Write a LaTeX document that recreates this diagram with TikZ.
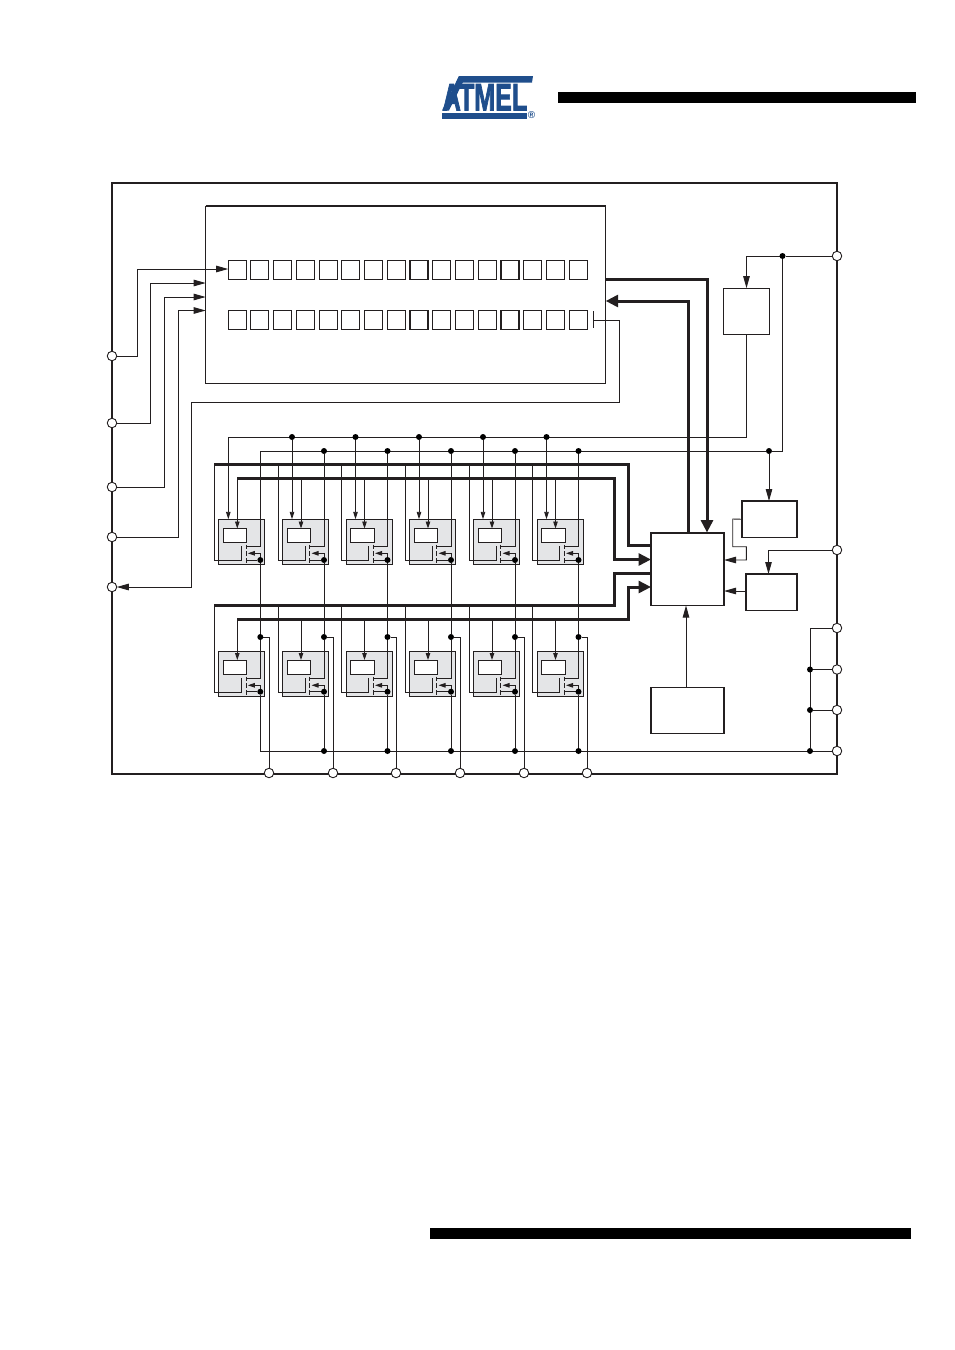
\documentclass[tikz,border=0pt]{standalone}
\usepackage{graphicx}
\usepackage{fontspec}
\setmainfont{Liberation Sans}
\newfontfamily\logofont[FakeBold=2.5]{Liberation Sans Bold}
\usetikzlibrary{arrows.meta,calc}
\definecolor{ink}{HTML}{231F20}
\definecolor{atmelblue}{HTML}{1F4E8C}
\definecolor{cellgray}{HTML}{E4E5E7}
\pgfdeclarelayer{back}
\pgfdeclarelayer{wirelayer}
\pgfsetlayers{back,wirelayer,main}
\tikzset{
  wire/.style={draw=ink,line width=0.9pt},
  thinarrow/.style={wire,-{Triangle[length=12pt,width=6.5pt]}},
  cellarrow/.style={wire,-{Triangle[length=7.5pt,width=4.5pt]}},
  smallarrow/.style={wire,-{Triangle[length=7pt,width=4.5pt]}},
  bus/.style={draw=ink,line width=3pt,line cap=butt,line join=miter},
  busarrow/.style={bus,-{Triangle[length=12.5pt,width=12pt]}},
  pin/.style={circle,draw=ink,fill=white,line width=0.9pt,minimum size=9.5pt,inner sep=0pt,outer sep=0pt},
  jdot/.style={circle,fill=black,minimum size=6pt,inner sep=0pt,outer sep=0pt},
  sqbox/.style={rectangle,draw=ink,fill=white,line width=1.1pt,inner sep=0pt,outer sep=0pt,anchor=north west},
  cellbox/.style={sqbox,fill=cellgray,minimum width=46pt,minimum height=45pt},
  regbox/.style={sqbox,minimum width=23.5pt,minimum height=14pt,line width=0.9pt},
  regcell/.style={sqbox,minimum width=18pt,minimum height=18.5pt},
}
\begin{document}
\begin{tikzpicture}[x=1pt,y=-1pt]
\useasboundingbox (0,0) rectangle (954,1350);

% header and footer bars
\fill[black] (558,92) rectangle (916,103);
\fill[black] (430,1228) rectangle (911,1239);

% logo
\fill[atmelblue] (442,112.5) -- (527,112.5) -- (527,118.8) -- (442,118.8) -- cycle;
\fill[atmelblue] (459,76) -- (533,76) -- (532,82.5) -- (456,82.5) -- cycle;
\fill[atmelblue] (442,110.5) -- (459,76) -- (466,76) -- (449,110.5) -- cycle;
\node[anchor=base west,inner sep=0pt,text=atmelblue] (logotext) at (442.5,110.3)
  {\scalebox{0.66}[1]{\fontsize{38}{38}\selectfont\logofont ATMEL}};
\node[text=atmelblue,inner sep=0pt] (logoreg) at (531.5,115.5) {\fontsize{10}{10}\selectfont\bfseries ®};

% frame and big blocks
\node[sqbox,fill=none,line width=2.2pt,minimum width=725pt,minimum height=591pt] (frame) at (112.3,183.3) {};
\node[sqbox,fill=none,minimum width=400pt,minimum height=177pt] (mem) at (205.7,206.2) {};
\draw[ink,line width=1.6pt] (mem.north west) -- (mem.north east);

\foreach \i in {0,...,15}{
  \node[regcell] (ra\i) at ({228.2+22.73*\i},260.7) {};
  \node[regcell] (rb\i) at ({228.2+22.73*\i},310.7) {};
}

\node[sqbox,minimum width=45.5pt,minimum height=46pt] (sup) at (723.8,288.2) {};
\node[sqbox,minimum width=55pt,minimum height=36.5pt] (blkA) at (742,501) {};
\node[sqbox,minimum width=51pt,minimum height=36.5pt] (blkB) at (746,574) {};
\node[sqbox,minimum width=73pt,minimum height=72.5pt,line width=1.3pt] (ctrl) at (651,533) {};
\node[sqbox,minimum width=73pt,minimum height=46pt] (blkC) at (651,687.3) {};

% pins
\node[pin] (pl1) at (112,356) {};
\node[pin] (pl2) at (112,423) {};
\node[pin] (pl3) at (112,487) {};
\node[pin] (pl4) at (112,537) {};
\node[pin] (pl5) at (112,587) {};
\node[pin] (pr1) at (837,256) {};
\node[pin] (pr2) at (837,550) {};
\node[pin] (pr3) at (837,628) {};
\node[pin] (pr4) at (837,669.5) {};
\node[pin] (pr5) at (837,710) {};
\node[pin] (pr6) at (837,751) {};

% junctions on the right
\node[jdot] (jv) at (782.5,256) {};
\node[jdot] (jw) at (769,451) {};
\node[jdot] (jg1) at (810,669.5) {};
\node[jdot] (jg2) at (810,710) {};
\node[jdot] (jg3) at (810,751) {};
\coordinate (jg0) at (810,628);
\coordinate (topv) at (746.5,256);
\coordinate (railv) at (782.5,451);
\coordinate (rail2) at (746.5,437);

% half-bridge cells
\foreach \i/\s/\q in {1/260.3/269,2/324/333,3/387.5/396,4/451/460,5/515/524,6/578.5/587}{
  \begin{pgfonlayer}{back}
    \node[cellbox] (cu\i) at (\s-41.4,519.3) {};
    \node[cellbox] (cl\i) at (\s-41.4,651.3) {};
    \node[regbox] (wu\i) at (\s-37,528.7) {};
    \node[regbox] (wl\i) at (\s-37,660.2) {};
  \end{pgfonlayer}
  \node[pin] (pb\i) at (\q,773) {};
  \node[jdot] (su\i) at (\s,560) {};
  \node[jdot] (sl\i) at (\s,691.7) {};
  \node[jdot] (jl\i) at (\s,637) {};
  \ifnum\i=1
    \coordinate (dt\i) at (\s-32,437);
    \coordinate (dm\i) at (\s,451);
    \coordinate (db\i) at (\s,751);
  \else
    \node[jdot] (dt\i) at (\s-32,437) {};
    \node[jdot] (dm\i) at (\s,451) {};
    \node[jdot] (db\i) at (\s,751) {};
  \fi
}

\begin{pgfonlayer}{wirelayer}
\foreach \i/\s/\q in {1/260.3/269,2/324/333,3/387.5/396,4/451/460,5/515/524,6/578.5/587}{
  % upper transistor
  \draw[cellarrow] (dt\i) -- (dt\i |- cu\i.north);
  \draw[smallarrow] (\s-23,478.5) -- (\s-23,528.5);
  \draw[wire] (dm\i) -- (\s,546.5) -- (\s-14.3,546.5);
  \draw[wire] (\s-46,464.5) -- (\s-46,560.5) -- (\s-18.7,560.5) -- (\s-18.7,546);
  \draw[wire] (\s-14.3,544.5) -- (\s-14.3,549) (\s-14.3,551) -- (\s-14.3,556) (\s-14.3,558) -- (\s-14.3,562.7);
  \draw[wire] (\s-14.3,560) -- (su\i);
  \draw[wire,-{Triangle[length=7pt,width=4.5pt]}] (su\i) -- (\s,553.3) -- (\s-12.5,553.3);
  \draw[wire] (su\i) -- (jl\i);
  % lower transistor
  \draw[smallarrow] (\s-23,619.5) -- (\s-23,660);
  \draw[wire] (jl\i) -- (\s,678.3) -- (\s-14.3,678.3);
  \draw[wire] (\s-46,605) -- (\s-46,692.7) -- (\s-18.7,692.7) -- (\s-18.7,678);
  \draw[wire] (\s-14.3,676.5) -- (\s-14.3,681) (\s-14.3,683) -- (\s-14.3,688) (\s-14.3,690) -- (\s-14.3,694.7);
  \draw[wire] (\s-14.3,691.7) -- (sl\i);
  \draw[wire,-{Triangle[length=7pt,width=4.5pt]}] (sl\i) -- (\s,685.3) -- (\s-12.5,685.3);
  \draw[wire] (sl\i) -- (db\i);
  \draw[wire] (jl\i) -| (pb\i);
}

% rails
\draw[wire] (dt1) -- (rail2) -- (sup.south -| rail2);
\draw[wire] (dm1) -- (jw) -- (railv) -- (jv);
\draw[thinarrow] (jw) -- (jw |- blkA.north);
\draw[wire] (pr1) -- (jv) -- (topv);
\draw[thinarrow] (topv) -- (sup.north -| topv);
\draw[wire] (db1) -- (pr6);
\draw[wire] (pr3) -- (jg0) -- (jg3);
\draw[wire] (jg1) -- (pr4);
\draw[wire] (jg2) -- (pr5);

% left side signals
\draw[thinarrow] (pl1) -- (137,356) -- (137,269) -- (ra0.west |- 0,269);
\draw[thinarrow] (pl2) -- (150,423) -- (150,283) -- (mem.west |- 0,283);
\draw[thinarrow] (pl3) -- (164,487) -- (164,297) -- (mem.west |- 0,297);
\draw[thinarrow] (pl4) -- (178,537) -- (178,310.5) -- (mem.west |- 0,310.5);
\draw[thinarrow] (593,320) -- (619.5,320) -- (619.5,402) -- (191,402) -- (191,587) -- (pl5);
\draw[wire] (593,311) -- (593,328);

% control block side connections
\draw[thinarrow] (blkA.west) -- (732.7,519) -- (732.7,546.7) -- (746.3,546.7) -- (746.3,560) -- (ctrl.east |- 0,560);
\draw[thinarrow] (blkB.west |- 0,591) -- (ctrl.east |- 0,591);
\draw[thinarrow] (pr2) -- (768.5,550) -- (768.5,0 |- blkB.north);
\draw[thinarrow] (686,687) -- (686,605.5);

% buses
\draw[bus] (214,464.5) -- (628.7,464.5) -- (628.7,545) -- (ctrl.west |- 0,545);
\draw[busarrow] (237,478.5) -- (614.7,478.5) -- (614.7,559.5) -- (ctrl.west |- 0,559.5);
\draw[bus] (214,605) -- (614.7,605) -- (614.7,573) -- (ctrl.west |- 0,573);
\draw[busarrow] (237,619.5) -- (628.7,619.5) -- (628.7,587) -- (ctrl.west |- 0,587);
\draw[busarrow] (mem.east |- 0,279) -- (707,279) -- (707,532.5);
\draw[busarrow] (688,532.5) -- (688,301) -- (mem.east |- 0,301);
\end{pgfonlayer}
\end{tikzpicture}
\end{document}
